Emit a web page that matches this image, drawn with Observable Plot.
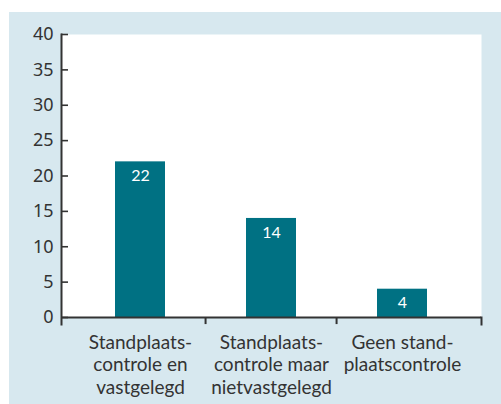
<!DOCTYPE html>
<html>
<head>
<meta charset="utf-8">
<script src="https://cdn.jsdelivr.net/npm/d3@7"></script>
<script src="https://cdn.jsdelivr.net/npm/@observablehq/plot@0.6"></script>
<style>
  html, body { margin: 0; padding: 0; background: #ffffff; }
  #panel { position: absolute; left: 9px; top: 12px; width: 492px; height: 392px; background: #d7e8ef; }
  #chart { position: absolute; left: 0; top: 0; }
  #chart svg { background: transparent; }
</style>
</head>
<body>
<div id="panel"></div>
<div id="chart"></div>
<script>
const categories = [
  "Standplaatscontrole en vastgelegd",
  "Standplaatscontrole maar nietvastgelegd",
  "Geen standplaatscontrole"
];
const tickLabels = [
  "Standplaats-\ncontrole en\nvastgelegd",
  "Standplaats-\ncontrole maar\nnietvastgelegd",
  "Geen stand-\nplaatscontrole"
];
const values = [22, 14, 4];
const yTicks = [0, 5, 10, 15, 20, 25, 30, 35, 40];

const data = categories.map((c, i) => ({category: c, value: values[i]}));
const labelOf = new Map(categories.map((c, i) => [c, tickLabels[i]]));

const W = 501, H = 404;
const mL = 61, mR = 20, mT = 34, mB = 87;
const pIn = 0.615, pOut = 0.4;
const step = (W - mL - mR) / (categories.length - pIn + 2 * pOut);
const innerH = H - mT - mB;
const ink = "#333333";
const font = "Lato, 'Open Sans', sans-serif";

const chart = Plot.plot({
  width: W,
  height: H,
  marginLeft: mL,
  marginRight: mR,
  marginTop: mT,
  marginBottom: mB,
  style: {fontFamily: font, color: ink, background: "transparent", overflow: "visible"},
  x: {type: "band", domain: categories, paddingInner: pIn, paddingOuter: pOut, label: null},
  y: {domain: [0, 40], label: null},
  marks: [
    Plot.frame({fill: "white", stroke: "none"}),
    Plot.barY(data, {x: "category", y: "value", fill: "#007183"}),
    Plot.text(data, {x: "category", y: "value", text: d => String(d.value), dy: 14, fill: "white", fontSize: 16, fontFamily: font}),
    Plot.axisY({ticks: yTicks, tickSize: 0, tickPadding: 8, fontSize: 18, fill: ink, label: null,
      fontFamily: "'Noto Sans', Lato, sans-serif",
      style: {fontVariantNumeric: "oldstyle-nums"}}),
    Plot.axisY({ticks: yTicks, tickSize: 7, dx: 7, tickFormat: () => "", stroke: ink, strokeWidth: 1.6, label: null}),
    Plot.axisX({tickSize: 0, tickPadding: 15, fontSize: 19, lineHeight: 1.2, fill: ink, label: null,
      tickFormat: d => labelOf.get(d)}),
    Plot.ruleY([0], {stroke: ink, strokeWidth: 2}),
    Plot.frame({anchor: "left", stroke: ink, strokeWidth: 2, insetBottom: -7}),
    Plot.frame({anchor: "right", stroke: ink, strokeWidth: 2, insetTop: innerH, insetBottom: -7}),
    Plot.ruleX(categories.slice(1), {x: d => d, dx: -step / 2, y1: 0, y2: -1, stroke: ink, strokeWidth: 2})
  ]
});
document.getElementById("chart").appendChild(chart);
</script>
</body>
</html>
